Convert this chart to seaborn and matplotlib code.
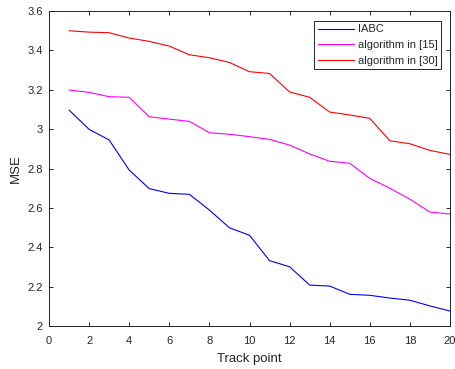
import numpy as np
import pandas as pd
import matplotlib
matplotlib.use("Agg")
import matplotlib.pyplot as plt
import seaborn as sns

track_points = list(range(1, 21))
iabc = [3.097, 2.999, 2.945, 2.792, 2.698, 2.674, 2.669, 2.589, 2.499, 2.461,
        2.332, 2.301, 2.208, 2.203, 2.161, 2.156, 2.142, 2.131, 2.102, 2.076]
alg15 = [3.199, 3.187, 3.165, 3.162, 3.063, 3.051, 3.040, 2.982, 2.974, 2.962,
         2.948, 2.919, 2.874, 2.837, 2.827, 2.750, 2.700, 2.644, 2.579, 2.569]
alg30 = [3.500, 3.493, 3.490, 3.463, 3.446, 3.422, 3.378, 3.363, 3.339, 3.292,
         3.283, 3.189, 3.162, 3.087, 3.072, 3.055, 2.941, 2.926, 2.892, 2.872]
series_names = ["IABC", "algorithm in [15]", "algorithm in [30]"]
colors = ["#0000ff", "#ff00ff", "#ff0000"]
xticks = list(range(0, 21, 2))
yticks = [2, 2.2, 2.4, 2.6, 2.8, 3, 3.2, 3.4, 3.6]
ytick_labels = ["2", "2.2", "2.4", "2.6", "2.8", "3", "3.2", "3.4", "3.6"]

df = pd.DataFrame({
    "Track point": track_points * 3,
    "MSE": iabc + alg15 + alg30,
    "series": sum([[n] * len(track_points) for n in series_names], []),
})

sns.set_theme(style="ticks")
plt.rcParams["font.family"] = ["Liberation Sans", "DejaVu Sans"]
plt.rcParams["font.size"] = 8

fig = plt.figure(figsize=(4.56, 3.69), dpi=100)
ax = fig.add_axes([0.1075, 0.1165, 0.8793, 0.8535])
sns.lineplot(data=df, x="Track point", y="MSE", hue="series",
             palette=colors, hue_order=series_names, linewidth=0.8, ax=ax)

ax.set_xlim(0, 20)
ax.set_ylim(2, 3.6)
ax.set_xticks(xticks)
ax.set_xticklabels([str(t) for t in xticks])
ax.set_yticks(yticks)
ax.set_yticklabels(ytick_labels)
ax.tick_params(direction="in", length=3, width=0.7, top=True, right=True,
               labelsize=8, colors="#262626")
ax.tick_params(axis="x", pad=7)
ax.tick_params(axis="y", pad=4.5)
for s in ax.spines.values():
    s.set_linewidth(0.7)
    s.set_color("#262626")
    s.set_visible(True)
ax.set_xlabel("Track point", fontsize=9.5, color="#262626", labelpad=5)
ax.set_ylabel("MSE", fontsize=9.5, color="#262626", labelpad=4)

leg = ax.legend(loc="upper right", bbox_to_anchor=(0.978, 0.97),
                fontsize=8, frameon=True, fancybox=False,
                edgecolor="#262626", framealpha=1, borderpad=0.35,
                handlelength=3.25, handletextpad=0.3, labelspacing=0.5,
                borderaxespad=0.0)
leg.get_frame().set_linewidth(0.7)

fig.savefig("out.png", dpi=100)
